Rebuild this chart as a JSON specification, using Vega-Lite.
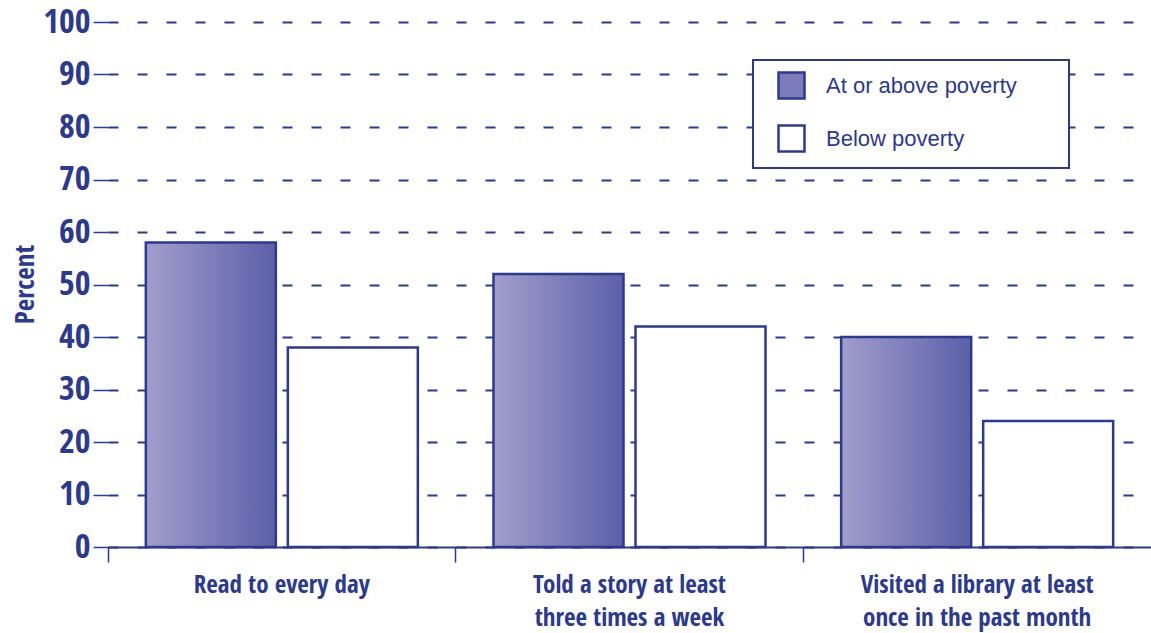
{
  "$schema": "https://vega.github.io/schema/vega-lite/v6.json",
  "autosize": "none",
  "width": 1043,
  "height": 525,
  "padding": {"left": 108, "top": 22, "right": 0, "bottom": 86},
  "background": "white",
  "data": {
    "values": [
      {"activity": "Read to every day", "group": "At or above poverty", "percent": 58},
      {"activity": "Read to every day", "group": "Below poverty", "percent": 38},
      {"activity": "Told a story at least|three times a week", "group": "At or above poverty", "percent": 52},
      {"activity": "Told a story at least|three times a week", "group": "Below poverty", "percent": 42},
      {"activity": "Visited a library at least|once in the past month", "group": "At or above poverty", "percent": 40},
      {"activity": "Visited a library at least|once in the past month", "group": "Below poverty", "percent": 24}
    ]
  },
  "mark": {"type": "bar", "stroke": "#2b3990", "strokeWidth": 2.5},
  "encoding": {
    "x": {
      "field": "activity",
      "type": "nominal",
      "sort": null,
      "scale": {"paddingInner": 0, "paddingOuter": 0},
      "axis": {
        "title": null,
        "labelAngle": 0,
        "labelExpr": "split(datum.label, '|')",
        "labelFont": "Open Sans Condensed, Roboto Condensed, Noto Sans Condensed, DejaVu Sans Condensed, sans-serif",
        "labelFontWeight": "bold",
        "labelFontSize": 25,
        "labelLineHeight": 33,
        "labelColor": "#2b3990",
        "labelBaseline": "top",
        "labelPadding": 10,
        "labelLimit": 400,
        "bandPosition": 0,
        "tickSize": 15,
        "tickWidth": 1.5,
        "tickColor": "#2b3990",
        "domainColor": "#2b3990",
        "domainWidth": 2,
        "grid": false
      }
    },
    "xOffset": {
      "field": "group",
      "type": "nominal",
      "scale": {"paddingInner": 0.0845, "paddingOuter": 0.2664}
    },
    "y": {
      "field": "percent",
      "type": "quantitative",
      "scale": {"domain": [0, 100], "nice": false},
      "axis": {
        "title": "Percent",
        "titleFont": "Open Sans Condensed, Roboto Condensed, Noto Sans Condensed, DejaVu Sans Condensed, sans-serif",
        "titleFontWeight": "bold",
        "titleFontSize": 27,
        "titleColor": "#2b3990",
        "titleAngle": -90,
        "titleBaseline": "alphabetic",
        "titleAlign": "center",
        "titleX": -75,
        "titleY": 262,
        "values": [0, 10, 20, 30, 40, 50, 60, 70, 80, 90, 100],
        "labelFont": "Open Sans Condensed, Roboto Condensed, Noto Sans Condensed, DejaVu Sans Condensed, sans-serif",
        "labelFontWeight": "bold",
        "labelFontSize": 34,
        "labelColor": "#2b3990",
        "labelPadding": 3,
        "tickSize": 15,
        "tickWidth": 1.5,
        "tickColor": "#2b3990",
        "domain": false,
        "grid": true,
        "gridColor": "#2b3990",
        "gridWidth": 2,
        "gridDash": [10, 19]
      }
    },
    "fill": {
      "condition": {
        "test": "datum.group == 'At or above poverty'",
        "value": {"gradient": "linear", "x1": 0, "y1": 0, "x2": 1, "y2": 0, "stops": [{"offset": 0, "color": "#a19ecc"}, {"offset": 1, "color": "#5b60a9"}]}
      },
      "field": "group",
      "type": "nominal",
      "scale": {
        "domain": ["At or above poverty", "Below poverty"],
        "range": ["#7d7cba", "#ffffff"]
      },
      "legend": {
        "title": "WW",
        "titleOrient": "right",
        "titleColor": "white",
        "titleFontSize": 11,
        "titlePadding": 20,
        "orient": "none",
        "legendX": 645,
        "legendY": 38,
        "fillColor": "white",
        "strokeColor": "#2b3990",
        "padding": 11,
        "symbolType": "square",
        "symbolSize": 676,
        "symbolStrokeColor": "#2b3990",
        "symbolStrokeWidth": 2.5,
        "symbolOffset": 13,
        "labelOffset": 20,
        "labelFont": "Liberation Sans",
        "labelFontSize": 22,
        "labelColor": "#2b3990",
        "labelLimit": 400,
        "rowPadding": 16
      }
    }
  },
  "config": {
    "view": {"stroke": null},
    "legend": {"strokeWidth": 2}
  }
}
